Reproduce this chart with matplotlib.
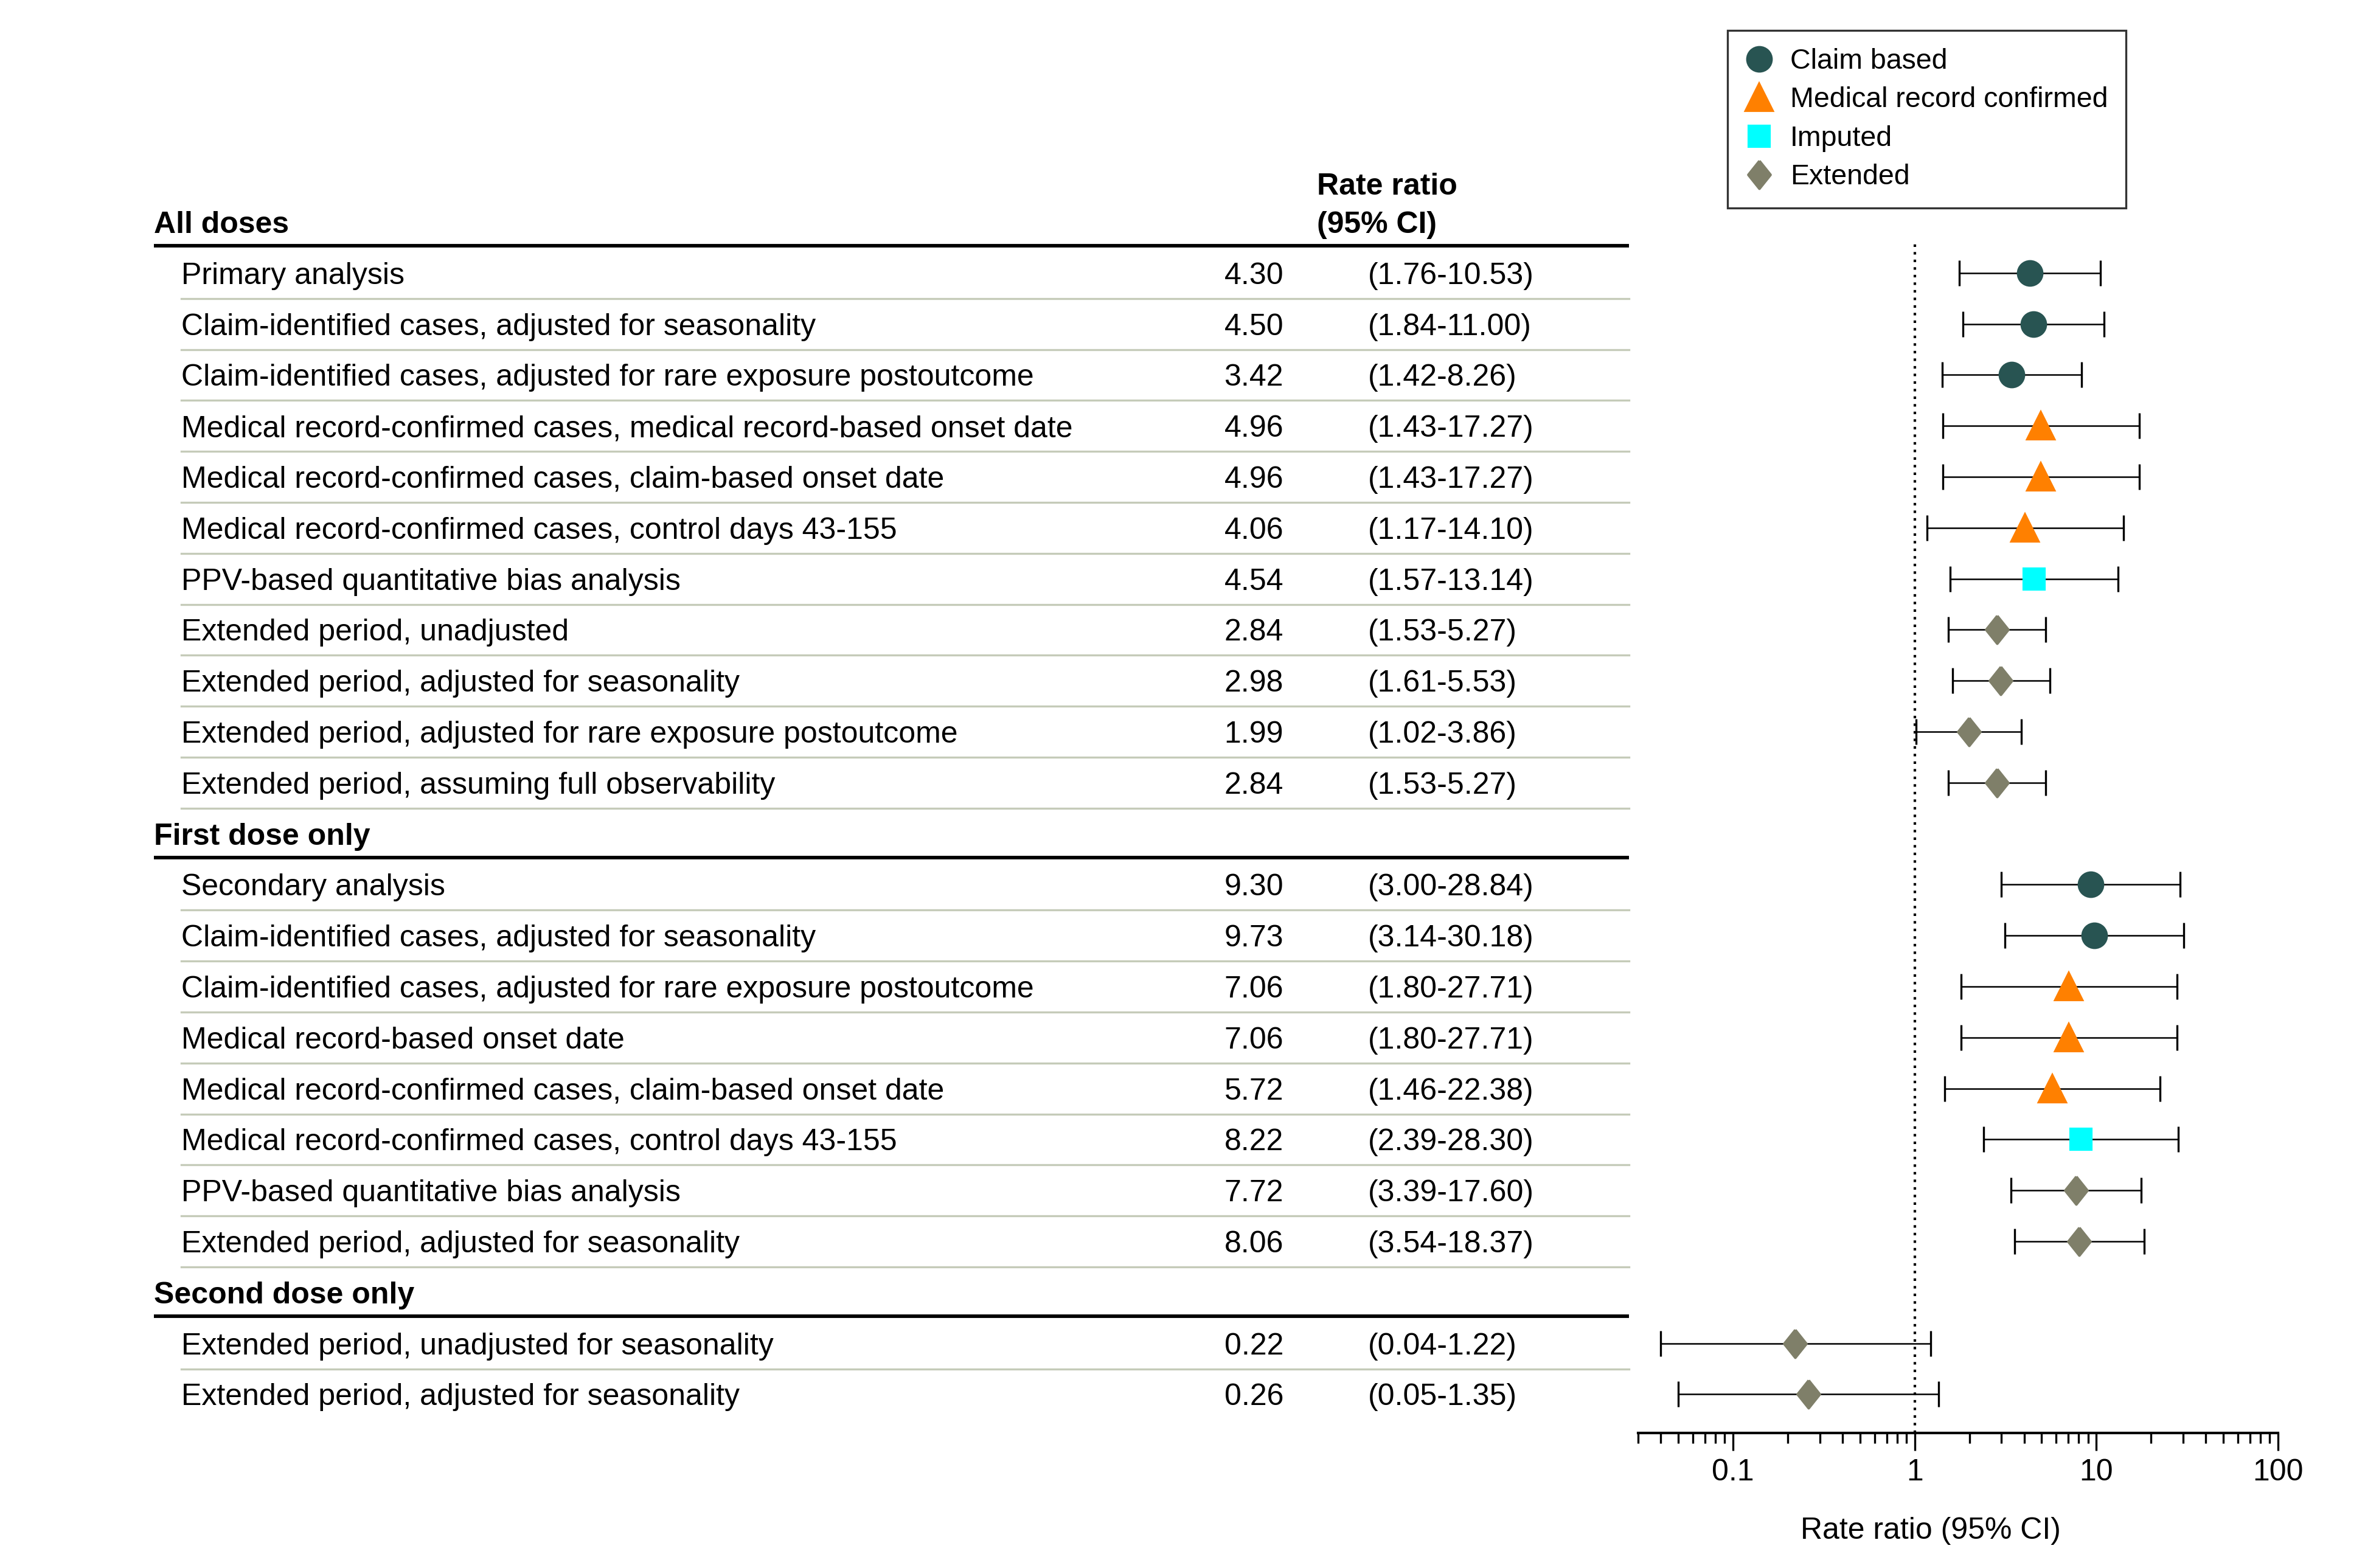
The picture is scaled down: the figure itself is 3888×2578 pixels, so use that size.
import numpy as np
import matplotlib
matplotlib.use("Agg")
import matplotlib.pyplot as plt
from matplotlib.lines import Line2D

plt.rcParams['font.family'] = ['Liberation Sans Narrow', 'Liberation Sans', 'DejaVu Sans']

# ---- data ----
group_names = ["All doses", "First dose only", "Second dose only"]
group_sizes = [11, 8, 2]

analyses = [
    "Primary analysis",
    "Claim-identified cases, adjusted for seasonality",
    "Claim-identified cases, adjusted for rare exposure postoutcome",
    "Medical record-confirmed cases, medical record-based onset date",
    "Medical record-confirmed cases, claim-based onset date",
    "Medical record-confirmed cases, control days 43-155",
    "PPV-based quantitative bias analysis",
    "Extended period, unadjusted",
    "Extended period, adjusted for seasonality",
    "Extended period, adjusted for rare exposure postoutcome",
    "Extended period, assuming full observability",
    "Secondary analysis",
    "Claim-identified cases, adjusted for seasonality",
    "Claim-identified cases, adjusted for rare exposure postoutcome",
    "Medical record-based onset date",
    "Medical record-confirmed cases, claim-based onset date",
    "Medical record-confirmed cases, control days 43-155",
    "PPV-based quantitative bias analysis",
    "Extended period, adjusted for seasonality",
    "Extended period, unadjusted for seasonality",
    "Extended period, adjusted for seasonality",
]
rate_ratio = [4.30, 4.50, 3.42, 4.96, 4.96, 4.06, 4.54, 2.84, 2.98, 1.99, 2.84,
              9.30, 9.73, 7.06, 7.06, 5.72, 8.22, 7.72, 8.06,
              0.22, 0.26]
ci_low = [1.76, 1.84, 1.42, 1.43, 1.43, 1.17, 1.57, 1.53, 1.61, 1.02, 1.53,
          3.00, 3.14, 1.80, 1.80, 1.46, 2.39, 3.39, 3.54,
          0.04, 0.05]
ci_high = [10.53, 11.00, 8.26, 17.27, 17.27, 14.10, 13.14, 5.27, 5.53, 3.86, 5.27,
           28.84, 30.18, 27.71, 27.71, 22.38, 28.30, 17.60, 18.37,
           1.22, 1.35]
source = ["Claim based"] * 3 + ["Medical record confirmed"] * 3 + ["Imputed"] + ["Extended"] * 4 \
    + ["Claim based"] * 2 + ["Medical record confirmed"] * 3 + ["Imputed"] + ["Extended"] * 2 \
    + ["Extended"] * 2

# ---- styles ----
diamond = [(0, 1), (0.8, 0), (0, -1), (-0.8, 0), (0, 1)]
styles = {
    "Claim based": dict(marker="o", color="#285452", ms=9.5),
    "Medical record confirmed": dict(marker="^", color="#ff8000", ms=10.5),
    "Imputed": dict(marker="s", color="#00ffff", ms=8),
    "Extended": dict(marker=diamond, color="#7f7f69", ms=11),
}

W, H = 3888, 2578
fig = plt.figure(figsize=(W / 300, H / 300), dpi=300)

# table layer in pixel coordinates
tab = fig.add_axes([0, 0, 1, 1])
tab.set_xlim(0, W)
tab.set_ylim(H, 0)
tab.axis("off")

FS = 12.0
slot = 83.8
y_top = 365
dy = 5  # small downward nudge of text
x_head, x_lab, x_rr, x_ci, x_end = 253, 298, 2110, 2249, 2678
line_col = "#c5cbb9"

# forest axes
x_left, x_right, y_axis, y_dot = 2693, 3745, 2356, 397
ax = fig.add_axes([x_left / W, 1 - y_axis / H, (x_right - x_left) / W, (y_axis - y_dot) / H])
ax.set_xscale("log")
ax.set_xlim(0.03, 100)
ax.set_ylim(y_axis, y_dot)
for s in ["top", "right", "left"]:
    ax.spines[s].set_visible(False)
ax.spines["bottom"].set_linewidth(1.0)
ax.set_yticks([])
ax.set_xticks([0.1, 1, 10, 100])
ax.set_xticklabels(["0.1", "1", "10", "100"])
ax.tick_params(axis="x", which="major", length=7, width=0.8, labelsize=FS, pad=3)
ax.tick_params(axis="x", which="minor", length=4, width=0.8)
ax.axvline(1, color="black", linestyle=(0, (1, 2)), lw=1.0)
ax.set_xlabel("Rate ratio (95% CI)", fontsize=FS)
ax.xaxis.set_label_coords(3174, 2494, transform=tab.transData)

tab.text(2165, y_top - 63 + dy, "Rate ratio", fontsize=FS, fontweight="bold", va="center")
tab.text(2165, y_top + dy, "(95% CI)", fontsize=FS, fontweight="bold", va="center")

row = 0
s = 0
for g, name in enumerate(group_names):
    y = y_top + s * slot
    tab.text(x_head, y + dy, name, fontsize=FS, fontweight="bold", va="center")
    tab.plot([x_head, x_end], [y + 0.47 * slot] * 2, color="black", lw=1.4, solid_capstyle="butt")
    s += 1
    for k in range(group_sizes[g]):
        y = y_top + s * slot
        tab.text(x_lab, y + dy, analyses[row], fontsize=FS, va="center")
        tab.text(x_rr, y + dy, f"{rate_ratio[row]:.2f}", fontsize=FS, va="center", ha="right")
        tab.text(x_ci, y + dy, f"({ci_low[row]:.2f}-{ci_high[row]:.2f})", fontsize=FS, va="center")
        if not (g == len(group_names) - 1 and k == group_sizes[g] - 1):
            tab.plot([x_lab, x_end], [y + 0.5 * slot] * 2, color=line_col, lw=0.8)
        st = styles[source[row]]
        ax.errorbar(rate_ratio[row], y,
                    xerr=[[rate_ratio[row] - ci_low[row]], [ci_high[row] - rate_ratio[row]]],
                    fmt="none", ecolor="black", elinewidth=0.6, capsize=5, capthick=0.8, zorder=2)
        ax.plot(rate_ratio[row], y, linestyle="none", marker=st["marker"], ms=st["ms"],
                color=st["color"], mec=st["color"], zorder=3)
        row += 1
        s += 1

handles = [Line2D([], [], linestyle="none", marker=v["marker"], color=v["color"], ms=v["ms"])
           for v in styles.values()]
leg = tab.legend(handles, list(styles.keys()), loc="upper left", bbox_to_anchor=(2840, 50),
                 bbox_transform=tab.transData, borderaxespad=0, fontsize=FS * 0.93, frameon=True,
                 fancybox=False, edgecolor="black", handlelength=1.0, handletextpad=0.6,
                 labelspacing=0.42, borderpad=0.62)
leg.get_frame().set_linewidth(0.8)

fig.savefig("out.png", dpi=300)
